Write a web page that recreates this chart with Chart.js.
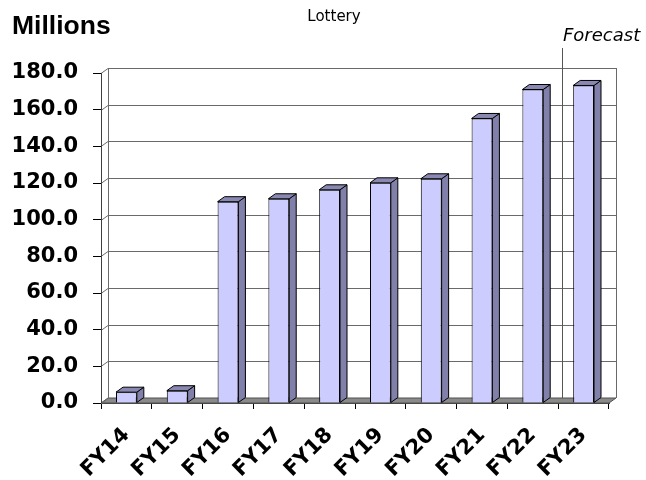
<!DOCTYPE html>
<html>
<head>
<meta charset="utf-8">
<script src="https://cdn.jsdelivr.net/npm/chart.js@4"></script>
<style>
  html, body { margin: 0; padding: 0; background: #fff; }
  #wrap { width: 646px; height: 480px; position: relative; }
</style>
</head>
<body>
<div id="wrap"><canvas id="c" width="646" height="480"></canvas></div>
<script>
const categories = ["FY14","FY15","FY16","FY17","FY18","FY19","FY20","FY21","FY22","FY23"];
const lotteryValues = [5.9, 6.7, 109.8, 111.4, 116.3, 120.1, 122.3, 155.2, 171.0, 173.2];
const yTicks = [0, 20, 40, 60, 80, 100, 120, 140, 160, 180];
const chartTitle = "Lottery";
const unitLabel = "Millions";
const forecastLabel = "Forecast";
const forecastStartIndex = 9;

const DX = 7, DY = -5;

const threeD = {
  id: 'threeD',
  beforeDatasetsDraw(chart) {
    const ctx = chart.ctx;
    const ys = chart.scales.y, xs = chart.scales.x;
    const a = chart.chartArea;
    const y0 = ys.getPixelForValue(0);
    const yTop = ys.getPixelForValue(180);
    ctx.save();
    // floor
    ctx.beginPath();
    ctx.moveTo(a.left, y0);
    ctx.lineTo(a.right, y0);
    ctx.lineTo(a.right + DX, y0 + DY);
    ctx.lineTo(a.left + DX, y0 + DY);
    ctx.closePath();
    ctx.fillStyle = '#8a8a8a';
    ctx.fill();
    ctx.strokeStyle = '#505050';
    ctx.lineWidth = 1;
    ctx.stroke();
    // back wall gridlines
    ctx.strokeStyle = '#6a6a6a';
    ctx.lineWidth = 1;
    yTicks.forEach(v => {
      const y = Math.round(ys.getPixelForValue(v) + DY) + 0.5;
      if (v > 0) {
        ctx.beginPath();
        ctx.moveTo(a.left + DX, y);
        ctx.lineTo(a.right + DX, y);
        ctx.stroke();
      }
      // side wall diagonal
      ctx.beginPath();
      ctx.moveTo(a.left, Math.round(ys.getPixelForValue(v)) + 0.5);
      ctx.lineTo(a.left + DX, y);
      ctx.stroke();
    });
    // back wall frame
    const lx = Math.round(a.left + DX) + 0.5, rx = Math.round(a.right + DX) + 0.5;
    ctx.beginPath();
    ctx.moveTo(lx, y0 + DY);
    ctx.lineTo(lx, yTop + DY);
    ctx.moveTo(rx, yTop + DY);
    ctx.lineTo(rx, y0 + DY);
    ctx.stroke();
    // forecast divider
    const fx = Math.round((xs.getPixelForValue(forecastStartIndex - 1) + xs.getPixelForValue(forecastStartIndex)) / 2 + DX / 2) + 0.5;
    ctx.strokeStyle = '#555555';
    ctx.beginPath();
    ctx.moveTo(fx, 48);
    ctx.lineTo(fx, y0 + DY);
    ctx.stroke();
    // front y axis line
    ctx.strokeStyle = '#404040';
    ctx.beginPath();
    ctx.moveTo(a.left + 0.5, yTop);
    ctx.lineTo(a.left + 0.5, y0);
    ctx.stroke();
    ctx.restore();
  },
  afterDatasetsDraw(chart) {
    const ctx = chart.ctx;
    const meta = chart.getDatasetMeta(0);
    ctx.save();
    ctx.lineWidth = 1;
    ctx.strokeStyle = '#000';
    meta.data.forEach(bar => {
      const p = bar.getProps(['x','y','base','width'], true);
      const l = p.x - p.width / 2, r = p.x + p.width / 2, t = p.y, b = p.base;
      // side
      ctx.beginPath();
      ctx.moveTo(r, t);
      ctx.lineTo(r + DX, t + DY);
      ctx.lineTo(r + DX, b + DY);
      ctx.lineTo(r, b);
      ctx.closePath();
      ctx.fillStyle = '#8080aa';
      ctx.fill();
      ctx.stroke();
      // top
      ctx.beginPath();
      ctx.moveTo(l, t);
      ctx.lineTo(l + DX, t + DY);
      ctx.lineTo(r + DX, t + DY);
      ctx.lineTo(r, t);
      ctx.closePath();
      ctx.fillStyle = '#8888b2';
      ctx.fill();
      ctx.stroke();
    });
    ctx.restore();
  },
  afterDraw(chart) {
    const ctx = chart.ctx;
    ctx.save();
    ctx.fillStyle = '#000';
    ctx.textBaseline = 'alphabetic';
    ctx.textAlign = 'left';
    ctx.font = 'bold 26.5px "Liberation Sans", Arial, sans-serif';
    ctx.fillText(unitLabel, 12, 34);
    ctx.font = '15px "DejaVu Sans", sans-serif';
    ctx.textAlign = 'center';
    ctx.fillText(chartTitle, 334, 20.5);
    ctx.font = 'oblique 18px "DejaVu Sans", sans-serif';
    ctx.textAlign = 'left';
    ctx.fillText(forecastLabel, 563, 41);
    ctx.restore();
  }
};

new Chart(document.getElementById('c'), {
  type: 'bar',
  data: {
    labels: categories,
    datasets: [{
      label: chartTitle,
      data: lotteryValues,
      backgroundColor: '#ccccff',
      borderColor: '#000000',
      borderWidth: 1,
      categoryPercentage: 1.0,
      barPercentage: 0.41
    }]
  },
  options: {
    responsive: false,
    animation: false,
    devicePixelRatio: 1,
    layout: { padding: { top: 73, right: 37, left: 0, bottom: 0 } },
    plugins: { legend: { display: false }, tooltip: { enabled: false }, title: { display: false } },
    scales: {
      x: {
        offset: true,
        grid: { drawOnChartArea: false, drawTicks: true, tickLength: 6, tickColor: '#000', offset: true },
        border: { display: true, color: '#404040' },
        ticks: {
          maxRotation: 45, minRotation: 45, autoSkip: false,
          color: '#000', padding: 14,
          font: { family: '"DejaVu Sans", sans-serif', weight: 'bold', size: 21 }
        },
        afterFit(s) { s.height = 77; }
      },
      y: {
        min: 0, max: 180,
        afterBuildTicks(s) { s.ticks = yTicks.map(v => ({ value: v })); },
        grid: { drawOnChartArea: false, drawTicks: true, tickLength: 8, tickColor: '#000' },
        border: { display: false },
        ticks: {
          color: '#000', padding: 15,
          font: { family: '"DejaVu Sans", sans-serif', weight: 'bold', size: 21 },
          callback: v => Number(v).toFixed(1)
        },
        afterFit(s) { s.width = 101; }
      }
    }
  },
  plugins: [threeD]
});
</script>
</body>
</html>
